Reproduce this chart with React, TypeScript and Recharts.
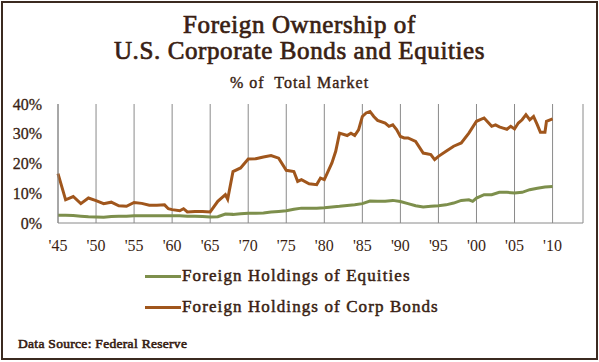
import React from "react";
import { LineChart, Line, XAxis, YAxis, CartesianGrid } from "recharts";

// foreign holdings of corp bonds, % of total market
const bondYears = [
  1945, 1946, 1947, 1948, 1949, 1950, 1951, 1952, 1953, 1954, 1955, 1956, 1957, 1958, 1959, 1959.5,
  1960, 1961, 1961.5, 1962, 1963, 1964, 1965, 1966, 1967, 1967.3, 1968, 1969, 1970, 1971, 1972, 1973,
  1974, 1975, 1976, 1976.5, 1977, 1978, 1979, 1979.5, 1980, 1981, 1981.5, 1982, 1983, 1983.5, 1984,
  1984.5, 1985, 1985.5, 1986, 1986.5, 1987, 1988, 1988.5, 1989, 1989.5, 1990, 1990.5, 1991, 1992,
  1993, 1994, 1994.5, 1995, 1996, 1997, 1998, 1999, 2000, 2001, 2002, 2002.5, 2003, 2003.5, 2004,
  2004.5, 2005, 2005.5, 2006, 2006.5, 2007, 2007.5, 2008, 2008.4, 2009, 2009.2, 2010,
];
const bondValues = [
  16.6, 7.8, 8.9, 6.5, 8.4, 7.5, 6.5, 7.0, 5.8, 5.6, 6.9, 6.6, 6.0, 6.0, 6.1, 4.8,
  4.5, 4.1, 4.8, 3.7, 3.9, 3.9, 3.7, 7.3, 9.5, 8.0, 17.3, 18.5, 21.5, 21.6, 22.2, 22.7,
  21.8, 17.7, 17.3, 14.0, 14.6, 13.2, 12.9, 15.1, 14.6, 20.2, 24.1, 30.2, 29.4, 30.2, 29.4,
  31.3, 35.8, 37.0, 37.5, 35.8, 34.5, 33.6, 32.5, 33.0, 31.4, 29.1, 28.6, 28.6, 27.4,
  23.5, 23.0, 21.3, 22.4, 24.1, 25.8, 26.9, 30.2, 34.2, 35.3, 32.5, 33.0, 32.3, 31.9, 31.5,
  32.5, 31.6, 33.6, 34.7, 36.4, 34.7, 35.8, 33.0, 30.5, 30.5, 34.2, 35.0,
];

// foreign holdings of equities
const equityYears = [
  1945, 1946, 1947, 1948, 1949, 1950, 1951, 1952, 1953, 1954, 1955, 1956, 1957, 1958, 1959, 1960,
  1961, 1962, 1963, 1964, 1965, 1966, 1967, 1968, 1969, 1970, 1971, 1972, 1973, 1974, 1975, 1976,
  1977, 1978, 1979, 1980, 1981, 1982, 1983, 1984, 1985, 1986, 1987, 1988, 1989, 1990, 1991, 1992,
  1993, 1994, 1995, 1996, 1997, 1998, 1999, 1999.5, 2000, 2001, 2002, 2003, 2004, 2005, 2006, 2007,
  2008, 2009, 2010,
];
const equityValues = [
  2.6, 2.6, 2.5, 2.3, 2.1, 2.0, 1.9, 2.2, 2.3, 2.3, 2.4, 2.4, 2.4, 2.4, 2.4, 2.4,
  2.4, 2.3, 2.3, 2.2, 2.0, 2.1, 3.0, 2.9, 3.1, 3.3, 3.3, 3.4, 3.7, 3.9, 4.1, 4.6,
  5.0, 5.0, 5.0, 5.1, 5.4, 5.6, 5.9, 6.1, 6.5, 7.4, 7.3, 7.3, 7.6, 7.2, 6.5, 5.8,
  5.4, 5.6, 5.8, 6.1, 6.7, 7.6, 7.8, 7.3, 8.4, 9.5, 9.5, 10.3, 10.3, 10.1, 10.3, 11.2,
  11.7, 12.1, 12.3,
];

const xTicks = [1945, 1950, 1955, 1960, 1965, 1970, 1975, 1980, 1985, 1990, 1995, 2000, 2005, 2010];
const yTicks = [0, 10, 20, 30, 40];

const bondData = bondYears.map((year, i) => ({ year, value: bondValues[i] }));
const equityData = equityYears.map((year, i) => ({ year, value: equityValues[i] }));

const FONT = '"Liberation Serif", serif';
const TEXT = "#3a1f14";
const GREEN = "#7d8f4c";
const BROWN = "#a0561c";

// no bold serif face installed, so thicken regular glyphs with a thin stroke
const semi = (w: number) => ({ WebkitTextStroke: `${w}px ${TEXT}` });

const LegendRow = ({ color, label, top }: { color: string; label: string; top: number }) => (
  <div style={{ position: "absolute", left: 145, top, display: "flex", alignItems: "center" }}>
    <div style={{ width: 36, height: 3, background: color }} />
    <span style={{ fontSize: 17, color: TEXT, marginLeft: 1, letterSpacing: 1.1, ...semi(0.5) }}>{label}</span>
  </div>
);

export default function App() {
  return (
    <div style={{ position: "absolute", left: 0, top: 0, width: 599, height: 362, background: "#fff", fontFamily: FONT }}>
      <div
        style={{
          position: "absolute",
          left: 1,
          top: 1,
          width: 597,
          height: 359,
          border: "2px solid #3b2a20",
          boxSizing: "border-box",
        }}
      />
      <div
        style={{
          position: "absolute",
          left: 0,
          width: 599,
          top: 12,
          textAlign: "center",
          color: TEXT,
          fontSize: 25,
          lineHeight: "26px",
          letterSpacing: 0.6,
          ...semi(0.7),
        }}
      >
        Foreign Ownership of
        <br />
        U.S. Corporate Bonds and Equities
      </div>
      <div style={{ position: "absolute", left: 0, width: 599, top: 74, textAlign: "center", color: TEXT, fontSize: 16, letterSpacing: 1, ...semi(0.4) }}>
        % of&nbsp; Total Market
      </div>

      <div style={{ position: "absolute", left: 0, top: 0 }}>
        <LineChart width={599} height={362} margin={{ top: 104, right: 16, bottom: 109, left: 8 }}>
          <CartesianGrid horizontal={false} stroke="#8a8a8a" strokeWidth={1} />
          <XAxis
            dataKey="year"
            type="number"
            domain={[1945, 2014]}
            ticks={xTicks}
            tickFormatter={(v: number) => "'" + String(v).slice(2)}
            tickLine={false}
            tickSize={0}
            tickMargin={17}
            height={30}
            stroke="#8a8a8a"
            tick={{ fill: TEXT, fontSize: 16, fontFamily: FONT }}
            allowDuplicatedCategory={false}
          />
          <YAxis
            type="number"
            domain={[0, 40]}
            ticks={yTicks}
            tickFormatter={(v: number) => v + "%"}
            tickLine={false}
            tickSize={0}
            tickMargin={16}
            width={50}
            stroke="#8a8a8a"
            tick={{ fill: TEXT, fontSize: 16, fontFamily: FONT, stroke: TEXT, strokeWidth: 0.3 }}
          />
          <Line data={equityData} dataKey="value" type="linear" stroke={GREEN} strokeWidth={3} dot={false} isAnimationActive={false} />
          <Line data={bondData} dataKey="value" type="linear" stroke={BROWN} strokeWidth={3} dot={false} isAnimationActive={false} />
        </LineChart>
      </div>

      <LegendRow color={GREEN} label="Foreign Holdings of Equities" top={266} />
      <LegendRow color={BROWN} label="Foreign Holdings of Corp Bonds" top={297} />

      <div style={{ position: "absolute", left: 18, top: 336, fontSize: 13.5, letterSpacing: 0.3, color: "#1f140e", ...semi(0.6) }}>
        Data Source: Federal Reserve
      </div>
    </div>
  );
}
